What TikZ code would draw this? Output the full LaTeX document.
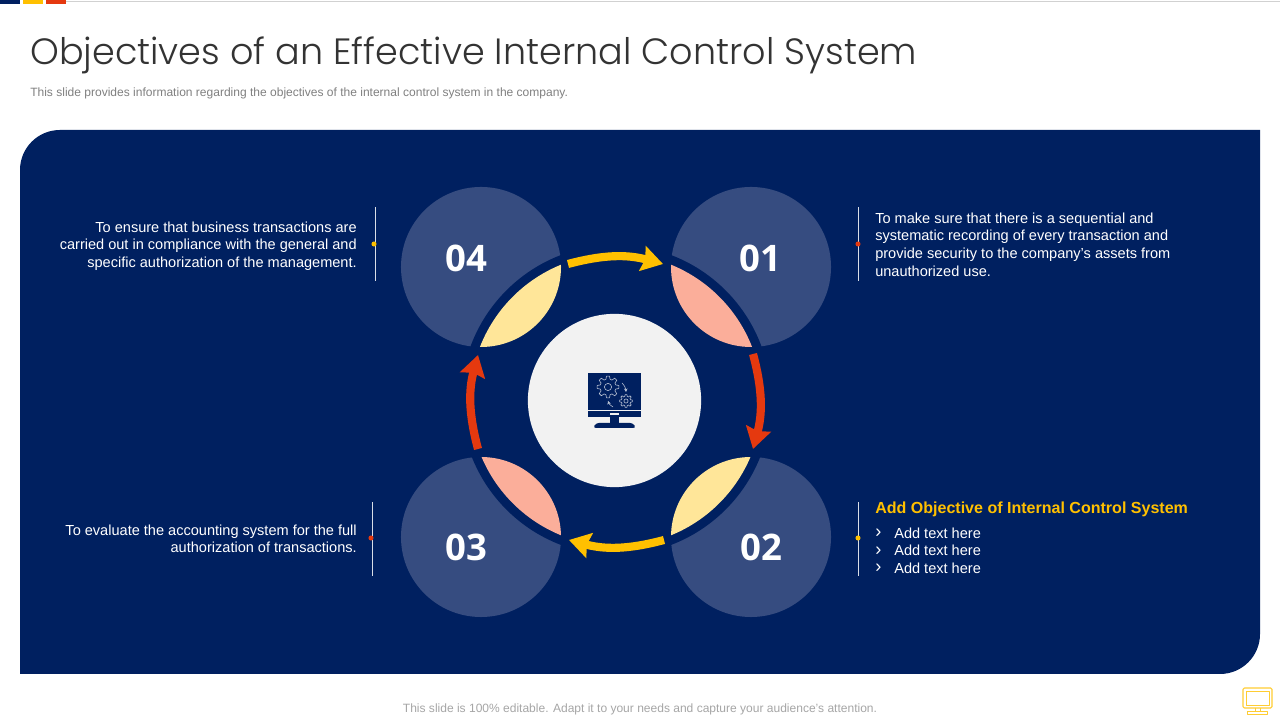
\documentclass[tikz,border=0pt]{standalone}
\usepackage{fontspec}
\setmainfont{Liberation Sans}
\newfontfamily\titlefont{Poppins Light}
\newfontfamily\numfont{Open Sans}
\usetikzlibrary{arrows.meta}
\usetikzlibrary{positioning}
\definecolor{navy}{HTML}{002060}
\definecolor{bubblecol}{HTML}{364C80}
\definecolor{sunny}{HTML}{FFC000}
\definecolor{flame}{HTML}{E5390F}
\definecolor{paleyellow}{HTML}{FFE699}
\definecolor{salmon}{HTML}{FBAE9A}
\tikzset{
  bubble/.style={circle,fill=bubblecol,minimum size=4cm,inner sep=0pt},
  numlabel/.style={text=white,font=\numfont\bfseries\fontsize{26}{30}\selectfont},
  bodytext/.style={text=white,font=\fontsize{10.35}{12.5}\selectfont,inner sep=0pt},
  rule/.style={draw=white!85!navy,line width=0.5pt},
  dot/.style={circle,minimum size=3.6pt,inner sep=0pt},
  ringarrow/.style={line width=5.8pt,-{Stealth[length=15pt,width=18pt,inset=2pt]},bend left=15},
  gearline/.style={draw=white!75!navy,line width=0.4pt,line join=round}
}
\newcommand{\gearpath}[3]{% centre, outer radius, inner radius
  \draw[gearline,shift={#1}] (-8:#2) \foreach \a in {0,45,...,315} {
    -- ({\a-8}:#2) -- ({\a+8}:#2) -- ({\a+15}:#3) -- ({\a+30}:#3)} -- cycle;
  \draw[gearline,shift={#1}] (0,0) circle ({#3*0.45});
}
\begin{document}
\begin{tikzpicture}[line cap=butt,line join=round,x=0.025cm,y=0.025cm]
% Page
\useasboundingbox (0,0) rectangle (1280,720);
\fill[white] (0,0) rectangle (1280,720);
% Top strip
\fill[navy] (0,716) rectangle (20,720);
\fill[sunny] (23,716) rectangle (43,720);
\fill[flame] (46,716) rectangle (66,720);
\draw[black!18,line width=0.7pt] (66,718)-- (1280,718);
% Title
\node[anchor=west,inner sep=0pt,text=black!80,font=\titlefont\fontsize{26}{30}\selectfont] (title) at (30,664.5) {Objectives of an Effective Internal Control System};
\node[anchor=west,inner sep=0pt,text=black!50,font=\fontsize{8.55}{10}\selectfont] (subtitle) at (30,627) {This slide provides information regarding the objectives of the internal control system in the company.};
% Panel
\fill[navy] (20,46)-- (1220,46) arc (-90:0:40)-- (1260,590)-- (60,590) arc (90:180:40)-- cycle;
% Bubbles
\node[bubble] (b1) at (751,453) {};
\node[bubble] (b2) at (751,183) {};
\node[bubble] (b3) at (481,183) {};
\node[bubble] (b4) at (481,453) {};
\coordinate (hub) at (616,320);
% Ring gap
\fill[navy] (hub) circle (155);
% Lenses
\begin{scope}
\clip (hub) circle (146);
\fill[salmon] (b1.center) circle (80);
\fill[paleyellow] (b2.center) circle (80);
\fill[salmon] (b3.center) circle (80);
\fill[paleyellow] (b4.center) circle (80);
\end{scope}
% Ring arrows
\coordinate (a4s) at (568,456);
\coordinate (a4e) at (663,456);
\coordinate (a1s) at (753,366);
\coordinate (a1e) at (753,271);
\coordinate (a2s) at (664,180);
\coordinate (a2e) at (569,180);
\coordinate (a3s) at (478,271);
\coordinate (a3e) at (478,365);
\draw[ringarrow,sunny] (a4s) to (a4e);
\draw[ringarrow,flame] (a1s) to (a1e);
\draw[ringarrow,sunny] (a2s) to (a2e);
\draw[ringarrow,flame] (a3s) to (a3e);
% Centre
\node[circle,fill=black!5,minimum size=4.33cm,inner sep=0pt] (core) at (614.5,319.5) {};
% Monitor
\fill[navy] (588,310)-- (588,347)-- (641,347)-- (641,310)-- cycle;
\fill[navy] (588,303) rectangle (641,308.5);
\fill[black!5] (610,304.5) rectangle (619,306.5);
\fill[navy] (610,297) rectangle (619,303);
\fill[navy,rounded corners=2pt] (593,292) -- (596,297) -- (633,297) -- (636,292) -- cycle;
\gearpath{(608,333)}{11}{8}
\gearpath{(626,319)}{6.5}{4.6}
\draw[gearline,-{Stealth[length=2.5pt,width=2.5pt]}] (622,337) to[bend left=20] (626,328);
\draw[gearline,-{Stealth[length=2.5pt,width=2.5pt]}] (613,313) to[bend left=20] (608,319);
% Numbers
\node[numlabel] (n1) at (760,462) {01};
\node[numlabel] (n2) at (761,173) {02};
\node[numlabel] (n3) at (466,173) {03};
\node[numlabel] (n4) at (466,462) {04};
% Text block 01
\coordinate (r1t) at (858,513);
\coordinate (r1b) at (858,439);
\draw[rule] (r1t)-- (r1b);
\node[dot,fill=flame] (d1) at (858,476) {};
\node[bodytext,anchor=north west,align=left] (t1) at (875,507.5) {To make sure that there is a sequential and\\systematic recording of every transaction and\\provide security to the company's assets from\\unauthorized use.};
% Text block 02
\coordinate (r2t) at (858,218);
\coordinate (r2b) at (858,144);
\draw[rule] (r2t)-- (r2b);
\node[dot,fill=sunny] (d2) at (858,182) {};
\node[anchor=west,inner sep=0pt,text=sunny,font=\bfseries\fontsize{11.4}{14}\selectfont] (h2) at (875,211) {Add Objective of Internal Control System};
\node[bodytext,anchor=west,font=\fontsize{13}{14}\selectfont] (c21) at (875,186.5) {›};
\node[bodytext,anchor=west,font=\fontsize{13}{14}\selectfont] (c22) at (875,169) {›};
\node[bodytext,anchor=west,font=\fontsize{13}{14}\selectfont] (c23) at (875,151.5) {›};
\node[bodytext,anchor=west] (l21) at (894,187) {Add text here};
\node[bodytext,anchor=west] (l22) at (894,169.5) {Add text here};
\node[bodytext,anchor=west] (l23) at (894,152) {Add text here};
% Text block 03
\coordinate (r3t) at (372,218);
\coordinate (r3b) at (372,144);
\draw[rule] (r3t)-- (r3b);
\node[dot,fill=flame] (d3) at (371,182) {};
\node[bodytext,anchor=north east,align=right] (t3) at (357,195.5) {To evaluate the accounting system for the full\\authorization of transactions.};
% Text block 04
\coordinate (r4t) at (375,513);
\coordinate (r4b) at (375,439);
\draw[rule] (r4t)-- (r4b);
\node[dot,fill=sunny] (d4) at (374,476) {};
\node[bodytext,anchor=north east,align=right] (t4) at (357,498.5) {To ensure that business transactions are\\carried out in compliance with the general and\\specific authorization of the management.};
% Footer
\node[inner sep=0pt,text=black!35,font=\fontsize{8.55}{10}\selectfont] (foot) at (640,11) {This slide is 100\% editable. Adapt it to your needs and capture your audience's attention.};
% Footer monitor
\draw[sunny!80!white,line width=0.8pt,rounded corners=1pt] (1243,12) rectangle (1272,32);
\draw[sunny!80!white,line width=0.5pt] (1246,15) rectangle (1269,29);
\draw[sunny!80!white,line width=0.7pt] (1255,12)-- (1255,9) (1260,12)-- (1260,9);
\draw[sunny!80!white,line width=0.7pt] (1247,6) rectangle (1267,9);
\end{tikzpicture}
\end{document}
